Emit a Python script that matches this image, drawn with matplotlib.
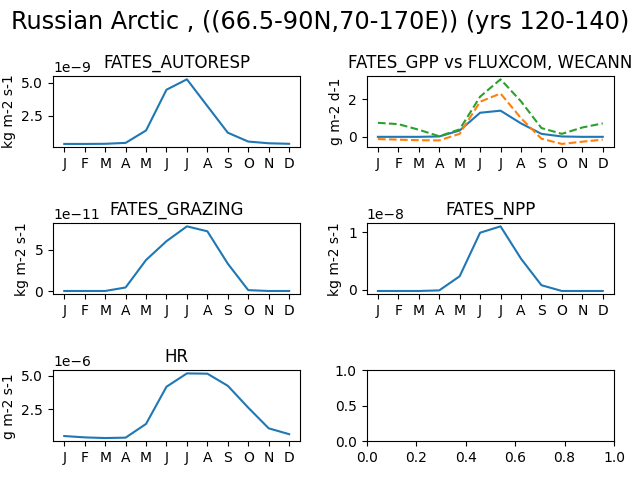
import matplotlib
matplotlib.use("Agg")
import matplotlib.pyplot as plt

months = ['J', 'F', 'M', 'A', 'M', 'J', 'J', 'A', 'S', 'O', 'N', 'D']

autoresp = [0.37e-9, 0.37e-9, 0.38e-9, 0.45e-9, 1.39e-9, 4.48e-9,
            5.27e-9, 3.24e-9, 1.22e-9, 0.55e-9, 0.42e-9, 0.38e-9]
gpp_fates = [0.0, 0.0, 0.0, 0.02, 0.34, 1.29, 1.40, 0.72, 0.16, 0.02, 0.0, 0.0]
gpp_fluxcom = [-0.12, -0.15, -0.18, -0.19, 0.16, 1.88, 2.32, 1.0, -0.1, -0.38, -0.26, -0.15]
gpp_wecann = [0.75, 0.68, 0.38, 0.03, 0.4, 2.15, 3.08, 1.9, 0.47, 0.16, 0.5, 0.72]
grazing = [0.05e-11, 0.05e-11, 0.05e-11, 0.47e-11, 3.75e-11, 6.0e-11,
           7.77e-11, 7.18e-11, 3.31e-11, 0.15e-11, 0.05e-11, 0.05e-11]
npp = [-0.02e-8, -0.02e-8, -0.02e-8, -0.01e-8, 0.235e-8, 0.99e-8,
       1.10e-8, 0.54e-8, 0.08e-8, -0.02e-8, -0.02e-8, -0.02e-8]
hr = [0.49e-6, 0.39e-6, 0.34e-6, 0.37e-6, 1.40e-6, 4.19e-6,
      5.19e-6, 5.17e-6, 4.26e-6, 2.62e-6, 1.07e-6, 0.63e-6]


def main():
    fig, axs = plt.subplots(3, 2, figsize=(6.4, 4.8), dpi=100)
    x = range(12)

    panels = [
        (axs[0, 0], 'FATES_AUTORESP', 'kg m-2 s-1', autoresp),
        (axs[1, 0], 'FATES_GRAZING', 'kg m-2 s-1', grazing),
        (axs[1, 1], 'FATES_NPP', 'kg m-2 s-1', npp),
        (axs[2, 0], 'HR', 'g m-2 s-1', hr),
    ]
    for ax, title, unit, vals in panels:
        ax.plot(x, vals)
        ax.set_title(title)
        ax.set_ylabel(unit)
        ax.set_xticks(list(x))
        ax.set_xticklabels(months)

    ax = axs[0, 1]
    ax.plot(x, gpp_fates)
    ax.plot(x, gpp_fluxcom, linestyle='--')
    ax.plot(x, gpp_wecann, linestyle='--')
    ax.set_title('FATES_GPP vs FLUXCOM, WECANN')
    ax.set_ylabel('g m-2 d-1')
    ax.set_xticks(list(x))
    ax.set_xticklabels(months)

    fig.suptitle('Russian Arctic , ((66.5-90N,70-170E)) (yrs 120-140)', fontsize='xx-large')
    fig.tight_layout()
    fig.savefig('out.png')


if __name__ == '__main__':
    main()
